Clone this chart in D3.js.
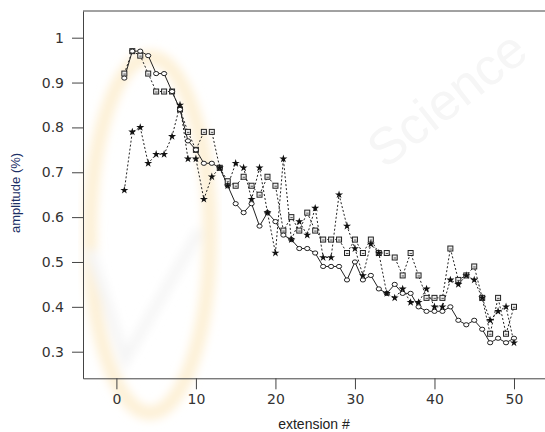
<!DOCTYPE html>
<html>
<head>
<meta charset="utf-8">
<script src="https://cdn.jsdelivr.net/npm/d3@7"></script>
<style>
  body { margin: 0; background: #fff; }
  svg { display: block; }
</style>
</head>
<body>
<div id="vis"></div>
<script>
var width = 545;
var height = 432;

// extension # 1..50
var ext = d3.range(1, 51);

var circleSeries = [0.91, 0.97, 0.97, 0.96, 0.92, 0.92, 0.88, 0.84, 0.77, 0.75,
  0.72, 0.72, 0.71, 0.67, 0.63, 0.61, 0.63, 0.58, 0.61, 0.59,
  0.56, 0.55, 0.53, 0.53, 0.52, 0.49, 0.49, 0.49, 0.46, 0.50,
  0.46, 0.47, 0.44, 0.43, 0.45, 0.43, 0.43, 0.40, 0.39, 0.39,
  0.39, 0.40, 0.37, 0.36, 0.37, 0.35, 0.32, 0.33, 0.32, 0.33];

var squareSeries = [0.92, 0.97, 0.96, 0.92, 0.88, 0.88, 0.88, 0.84, 0.79, 0.75,
  0.79, 0.79, 0.71, 0.68, 0.67, 0.69, 0.67, 0.65, 0.69, 0.67,
  0.57, 0.60, 0.57, 0.61, 0.57, 0.55, 0.55, 0.55, 0.52, 0.55,
  0.52, 0.55, 0.52, 0.52, 0.51, 0.47, 0.52, 0.47, 0.42, 0.42,
  0.42, 0.53, 0.46, 0.47, 0.49, 0.42, 0.34, 0.42, 0.34, 0.40];

var starSeries = [0.66, 0.79, 0.80, 0.72, 0.74, 0.74, 0.78, 0.85, 0.73, 0.73,
  0.64, 0.69, 0.71, 0.67, 0.72, 0.71, 0.64, 0.71, 0.61, 0.52,
  0.73, 0.55, 0.59, 0.56, 0.62, 0.51, 0.51, 0.65, 0.58, 0.53,
  0.47, 0.54, 0.52, 0.43, 0.42, 0.44, 0.41, 0.41, 0.44, 0.40,
  0.40, 0.46, 0.45, 0.47, 0.46, 0.42, 0.37, 0.39, 0.40, 0.32];

var yTicks = [0.3, 0.4, 0.5, 0.6, 0.7, 0.8, 0.9, 1];
var yMinor = [0.25, 0.35, 0.45, 0.55, 0.65, 0.75, 0.85, 0.95, 1.05];
var xTicks = [0, 10, 20, 30, 40, 50];
var xMinor = [5, 15, 25, 35, 45];

var plotLeft = 83, plotTop = 11, plotBottom = 378.3, plotRight = 545;

var x = d3.scaleLinear().domain([-4.2, 53.9]).range([plotLeft, plotRight]);
var y = d3.scaleLinear().domain([0.2407, 1.0595]).range([plotBottom, plotTop]);

var svg = d3.select("#vis")
  .append("svg")
  .attr("width", width)
  .attr("height", height)
  .attr("viewBox", [0, 0, width, height]);

// faint publisher watermark behind the plot
var defs = svg.append("defs");
defs.append("filter").attr("id", "soft")
  .append("feGaussianBlur").attr("stdDeviation", 5);

var wm = svg.append("g").attr("filter", "url(#soft)");
wm.append("ellipse")
  .attr("cx", 150).attr("cy", 235)
  .attr("rx", 60).attr("ry", 178)
  .attr("fill", "none")
  .attr("stroke", "#fdf0d6")
  .attr("stroke-width", 14);
wm.append("path")
  .attr("d", "M90,250 L125,360 L200,230")
  .attr("fill", "none")
  .attr("stroke", "#f5f5f5")
  .attr("stroke-width", 10);
svg.append("text")
  .attr("transform", "translate(385,170) rotate(-38)")
  .attr("font-family", "Liberation Sans, Arial, sans-serif")
  .attr("font-size", 52)
  .attr("fill", "#f6f6f6")
  .text("Science");

// frame
svg.append("line")
  .attr("x1", plotLeft).attr("x2", plotRight)
  .attr("y1", plotTop).attr("y2", plotTop)
  .attr("stroke", "#444");

var tickFont = "DejaVu Sans, Verdana, sans-serif";

var gy = svg.append("g").attr("transform", `translate(${plotLeft},0)`);
gy.call(d3.axisLeft(y).tickValues(yMinor).tickSize(8).tickSizeOuter(0).tickFormat(""));
gy.call(d3.axisLeft(y).tickValues(yTicks).tickSize(11).tickSizeOuter(0).tickPadding(8)
  .tickFormat(d => String(d)));

var gx = svg.append("g").attr("transform", `translate(0,${plotBottom})`);
gx.call(d3.axisBottom(x).tickValues(xMinor).tickSize(8).tickSizeOuter(0).tickFormat(""));
gx.call(d3.axisBottom(x).tickValues(xTicks).tickSize(11).tickSizeOuter(0).tickPadding(5));

svg.selectAll(".domain, .tick line").attr("stroke", "#444");
svg.selectAll(".tick text")
  .attr("font-family", tickFont)
  .attr("font-size", 14)
  .attr("fill", "#333");

svg.append("text")
  .attr("x", 314)
  .attr("y", 429)
  .attr("text-anchor", "middle")
  .attr("font-family", "Liberation Sans, Arial, sans-serif")
  .attr("font-size", 14)
  .attr("fill", "#222")
  .text("extension #");

svg.append("text")
  .attr("transform", "translate(20,193) rotate(-90)")
  .attr("text-anchor", "middle")
  .attr("font-family", "Liberation Sans, Arial, sans-serif")
  .attr("font-size", 13)
  .attr("fill", "#1c2f66")
  .text("amplitude (%)");

// series
function pts(vals) {
  return vals.map((v, i) => ({x: ext[i], y: v}));
}
var line = d3.line().x(d => x(d.x)).y(d => y(d.y));

var plot = svg.append("g");

plot.append("path")
  .datum(pts(squareSeries))
  .attr("d", line)
  .attr("fill", "none")
  .attr("stroke", "#222")
  .attr("stroke-width", 1)
  .attr("stroke-dasharray", "2,2");

plot.append("path")
  .datum(pts(starSeries))
  .attr("d", line)
  .attr("fill", "none")
  .attr("stroke", "#222")
  .attr("stroke-width", 1)
  .attr("stroke-dasharray", "2,2");

plot.append("path")
  .datum(pts(circleSeries))
  .attr("d", line)
  .attr("fill", "none")
  .attr("stroke", "#222")
  .attr("stroke-width", 1);

var sq = plot.append("g")
  .selectAll("g")
  .data(pts(squareSeries))
  .enter()
  .append("g")
  .attr("transform", d => `translate(${x(d.x)},${y(d.y)})`);
sq.append("rect")
  .attr("x", -2.5).attr("y", -2.5)
  .attr("width", 5).attr("height", 5)
  .attr("fill", "#eee")
  .attr("stroke", "#222")
  .attr("stroke-width", 1);
sq.append("line")
  .attr("x1", -1).attr("x2", 1.5)
  .attr("y1", 0.5).attr("y2", 0.5)
  .attr("stroke", "#555")
  .attr("stroke-width", 1);

plot.append("g")
  .selectAll("ellipse")
  .data(pts(circleSeries))
  .enter()
  .append("ellipse")
  .attr("cx", d => x(d.x))
  .attr("cy", d => y(d.y))
  .attr("rx", 2.6)
  .attr("ry", 2.1)
  .attr("fill", "#fff")
  .attr("stroke", "#222")
  .attr("stroke-width", 1);

plot.append("g")
  .selectAll("path")
  .data(pts(starSeries))
  .enter()
  .append("path")
  .attr("transform", d => `translate(${x(d.x)},${y(d.y)})`)
  .attr("d", d3.symbol(d3.symbolStar, 20))
  .attr("fill", "#111");
</script>
</body>
</html>
